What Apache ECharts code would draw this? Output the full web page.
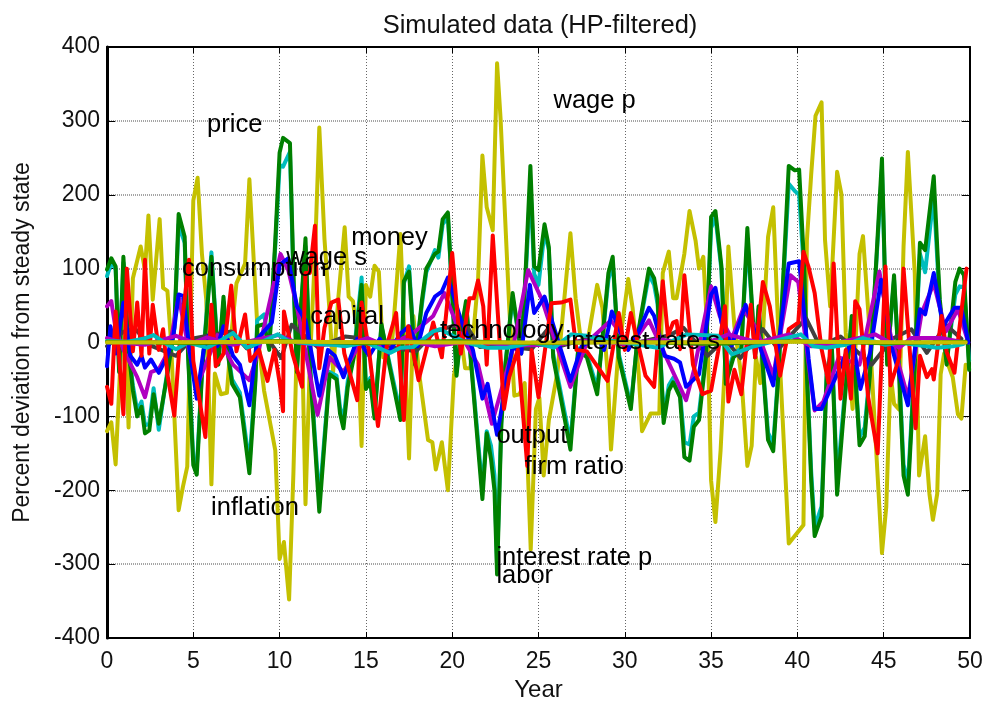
<!DOCTYPE html>
<html>
<head>
<meta charset="utf-8">
<title>Simulated data (HP-filtered)</title>
<script src="https://cdn.jsdelivr.net/npm/echarts@6/dist/echarts.min.js"></script>
<style>
html, body { margin: 0; padding: 0; background: #fff; }
#chart { width: 988px; height: 702px; }
</style>
</head>
<body>
<div id="chart"></div>
<script>
// [year, percent deviation] at the turning points of each line
var yellow_data = [[0,-120],[0.25,-108],[0.5,-165],[0.75,-40],[1,60],[1.25,-115],[1.5,87],[1.95,130],[2.2,98],[2.4,172],[2.65,58],[3.05,167],[3.25,74],[3.5,70],[3.7,5],[4.15,-227],[4.4,-195],[4.65,-168],[5,192],[5.25,223],[5.5,120],[5.75,58],[6.05,-192],[6.25,-42],[6.6,-70],[6.95,-68],[7.2,10],[7.5,80],[8,107],[8.25,221],[8.5,112],[8.75,5],[9.1,-65],[9.5,-115],[9.75,-146],[10,-293],[10.25,-270],[10.55,-348],[10.8,-177],[11,0],[11.25,60],[11.5,-219],[11.75,-30],[12.05,120],[12.3,291],[12.6,140],[12.9,40],[13.1,-40],[13.4,60],[13.77,156],[14,62],[14.25,56],[14.5,10],[14.75,-140],[15,78],[15.25,62],[15.5,104],[15.75,96],[16,-20],[16.5,-5],[17,147],[17.5,-157],[17.75,36],[18.1,-45],[18.6,-132],[18.85,-135],[19.05,-172],[19.4,-135],[19.75,-200],[20.1,-45],[20.5,10],[20.75,-35],[21.05,-35],[21.5,85],[21.75,253],[22,183],[22.35,152],[22.6,378],[22.8,304],[23.3,50],[23.6,-72],[23.9,-70],[24.2,-55],[24.55,-280],[24.85,-90],[25.05,-75],[25.3,-180],[25.6,-105],[26.1,-40],[26.85,148],[27.15,60],[27.4,13],[27.8,-5],[28.4,78],[28.7,47],[29,-40],[29.2,-145],[29.6,-20],[30.2,86],[30.45,47],[30.8,-40],[31,-120],[31.5,-96],[32,-96],[32.2,94],[32.55,123],[32.8,60],[33,60],[33.45,120],[33.75,178],[34.1,138],[34.3,100],[34.55,116],[34.8,5],[35,-187],[35.25,-243],[35.55,-146],[35.8,-30],[36,130],[36.35,22],[36.75,-45],[37.1,-167],[37.35,-140],[37.6,-20],[37.85,-55],[38.3,143],[38.6,183],[38.9,13],[39.5,-272],[40.35,-247],[40.55,138],[40.8,228],[41.05,307],[41.4,325],[41.6,139],[41.9,49],[42.3,231],[42.55,201],[42.8,13],[43.2,-90],[43.6,120],[43.8,144],[44.15,27],[44.9,-285],[45.15,-222],[45.4,-43],[45.6,-83],[45.9,-91],[46.15,130],[46.4,258],[46.8,94],[47.05,-180],[47.4,-127],[47.65,-205],[47.85,-240],[48.1,-205],[48.3,-43],[48.5,-15],[49,-47],[49.3,-97],[49.5,-103],[49.75,-30]];

var green_data = [[0,99],[0.25,114],[0.5,103],[0.7,-40],[0.95,116],[1.25,-10],[1.5,-65],[1.75,-100],[2,-87],[2.2,-123],[2.45,-119],[2.7,-70],[3,-110],[3.5,-43],[3.9,20],[4.15,174],[4.5,143],[4.7,-20],[5,-166],[5.2,-179],[5.5,-43],[6.05,116],[6.45,-30],[6.75,62],[7,-15],[7.25,-56],[7.7,-74],[8.25,-177],[8.6,-52],[8.7,22],[9.1,25],[9.4,-10],[9.75,138],[10,257],[10.2,277],[10.6,270],[10.8,94],[11,-40],[11.5,141],[11.75,-30],[12.3,-229],[12.9,-43],[13.3,-50],[13.5,-96],[13.7,-116],[13.95,-60],[14.3,-20],[14.75,78],[15,-63],[15.25,-52],[15.5,-103],[15.9,25],[16.35,-30],[17,-105],[17.2,83],[17.5,96],[17.85,-30],[18.25,58],[18.5,100],[19,120],[19.2,123],[19.45,167],[19.75,176],[20.25,-45],[20.5,13],[20.8,56],[21.1,-30],[21.75,-212],[22,-123],[22.25,-158],[22.45,-200],[22.6,-314],[22.85,-110],[23.05,-40],[23.5,67],[24,-15],[24.25,94],[24.53,239],[24.75,103],[25,98],[25.35,160],[25.6,129],[25.85,-20],[26.85,-145],[27.3,-10],[27.8,-20],[28.4,-70],[28.7,5],[29.05,94],[29.3,116],[29.65,-20],[30.35,-90],[30.75,10],[31.4,100],[31.7,87],[31.9,60],[32.25,-109],[32.55,-65],[32.8,-54],[33.2,-74],[33.45,-155],[33.75,-160],[34,-114],[34.3,-105],[34.7,-20],[35,170],[35.25,178],[35.6,103],[35.75,13],[35.85,-56],[36.3,-20],[36.75,-10],[37.1,155],[37.55,-20],[37.75,49],[38.3,-132],[38.6,-147],[38.9,-43],[39.5,239],[39.85,233],[40.1,234],[40.4,100],[40.55,-43],[40.8,-187],[41,-262],[41.4,-235],[41.7,-43],[42,-10],[42.3,-206],[42.7,-90],[43.15,36],[43.6,-139],[43.9,-127],[44.2,-43],[44.9,249],[45.2,-30],[45.6,91],[45.85,-20],[46.15,-180],[46.4,-206],[46.8,-30],[47.1,135],[47.4,125],[47.9,225],[48.25,58],[48.65,-30],[49.15,82],[49.4,100],[49.65,91],[49.95,-37]];

// big cyan line, follows the green one and shows only at its edges
var cyan_data = [[0,90],[0.25,108],[0.5,100],[0.7,-35],[0.95,108],[1.25,-8],[1.5,-58],[1.75,-92],[2,-80],[2.2,-112],[2.45,-110],[2.7,-62],[3,-118],[3.5,-38],[3.9,18],[4.15,160],[4.5,135],[4.7,-15],[5,-155],[5.2,-170],[5.5,-40],[6.05,122],[6.45,-25],[6.75,55],[7,-12],[7.25,-50],[7.7,-68],[8.25,-165],[8.6,-45],[8.7,30],[9.1,38],[9.4,-5],[9.75,130],[10,240],[10.2,238],[10.6,258],[10.8,85],[11,-35],[11.5,130],[11.75,-25],[12.3,-215],[12.9,-40],[13.3,-45],[13.5,-88],[13.7,-106],[13.95,-52],[14.3,-15],[14.75,88],[15,-58],[15.25,-48],[15.5,-95],[15.9,22],[16.35,-26],[17,-96],[17.2,80],[17.5,103],[17.85,-25],[18.25,52],[18.5,95],[19,125],[19.2,115],[19.45,160],[19.75,170],[20.25,-40],[20.5,10],[20.8,50],[21.1,-26],[21.75,-200],[22,-120],[22.25,-140],[22.45,-180],[22.6,-300],[22.85,-100],[23.05,-35],[23.5,60],[24,-12],[24.25,85],[24.53,215],[24.75,93],[25,78],[25.35,150],[25.6,125],[25.85,-15],[26.85,-135],[27.3,-8],[27.8,-16],[28.4,-62],[28.7,4],[29.05,85],[29.3,108],[29.65,-15],[30.35,-85],[30.75,8],[31.4,92],[31.7,78],[31.9,52],[32.25,-100],[32.55,-58],[32.8,-48],[33.2,-68],[33.45,-135],[33.75,-138],[34,-100],[34.3,-95],[34.7,-15],[35,155],[35.25,170],[35.6,98],[35.75,10],[35.85,-50],[36.3,-15],[36.75,-8],[37.1,140],[37.55,-15],[37.75,45],[38.3,-122],[38.6,-138],[38.9,-38],[39.5,215],[39.85,205],[40.1,200],[40.4,90],[40.55,-38],[40.8,-175],[41,-250],[41.4,-222],[41.7,-38],[42,-8],[42.3,-190],[42.7,-80],[43.15,30],[43.6,-128],[43.9,-115],[44.2,-38],[44.9,235],[45.2,-25],[45.6,85],[45.85,-15],[46.15,-165],[46.4,-192],[46.8,-25],[47.1,120],[47.4,95],[47.9,200],[48.25,50],[48.65,-25],[49.15,65],[49.4,76],[49.65,75],[49.95,-25]];

var red_data = [[0,-60],[0.25,-83],[0.5,42],[0.7,-20],[0.95,-97],[1.15,100],[1.5,-12],[1.75,54],[2,-18],[2.2,112],[2.45,-15],[2.65,51],[3,-10],[3.25,18],[3.5,-43],[3.9,-99],[4.2,-5],[4.75,112],[5,-25],[5.7,-128],[6.05,51],[6.3,-32],[6.75,-15],[7.2,77],[7.5,-12],[8,38],[8.3,-25],[8.8,-10],[9.3,-52],[9.7,-10],[10,-54],[10.2,-93],[10.25,42],[10.75,-15],[11.3,-60],[11.5,94],[11.75,94],[12.05,158],[12.3,-35],[12.6,20],[13,54],[13.4,58],[13.75,-15],[14.5,-78],[14.75,54],[15.2,-15],[15.7,-113],[16.2,-5],[16.75,40],[17.2,-105],[17.45,22],[18.05,-51],[18.9,27],[19.4,-20],[20,121],[20.5,-15],[21,60],[21.25,60],[21.5,84],[21.8,49],[22,-30],[22.35,145],[23,-90],[23.3,-47],[23.8,-10],[24.35,-167],[24.6,-10],[25,-74],[25.75,53],[26.3,54],[26.85,58],[27.2,-10],[27.8,-12],[29,-52],[29.65,40],[30,-10],[30.35,40],[31.2,-45],[31.7,-60],[32.2,83],[32.5,9],[32.8,27],[33,29],[33.2,-9],[33.45,91],[33.95,-30],[34.5,-70],[35,-65],[35.4,-13],[35.8,49],[36,-80],[36.35,-37],[36.75,-70],[37.3,51],[37.55,-20],[38,82],[38.4,49],[39,-45],[39.5,18],[40.05,27],[40.35,123],[40.65,102],[41,67],[41.4,-9],[41.8,-54],[42.1,107],[42.5,-76],[42.8,-10],[43.1,-76],[43.35,56],[43.6,45],[44.1,-74],[44.65,-150],[45.1,103],[45.4,-58],[45.9,-20],[46.15,100],[46.85,-116],[47.1,-18],[47.5,-47],[47.8,-36],[47.9,-50],[48.35,36],[48.65,-13],[49.1,-41],[49.4,22],[49.8,100]];

var blue_data = [[0,-32],[0.2,22],[0.5,-15],[0.95,54],[1.35,-18],[1.75,-30],[2,-18],[2.2,-34],[2.55,-23],[3,-41],[3.5,-18],[3.85,10],[4.15,65],[4.4,63],[4.8,-13],[5.2,-76],[5.6,-10],[6,15],[6.4,-5],[6.75,22],[7.3,-18],[7.7,-30],[8.25,-85],[8.7,5],[9.55,27],[10,105],[10.5,114],[11,49],[11.5,30],[12.3,-72],[12.8,-10],[13.2,-18],[13.7,-47],[14.5,5],[15.2,-18],[15.8,5],[16.3,-15],[17,12],[17.5,22],[18,-5],[18.5,40],[19,62],[19.4,69],[19.75,88],[20.5,31],[21.2,-10],[21.75,-76],[22.05,-56],[22.6,-125],[23.5,-5],[24,-15],[24.5,78],[24.75,40],[25.35,62],[26.1,5],[26.85,-52],[27.5,-5],[28.4,8],[28.8,-10],[29.25,42],[30.2,-10],[30.8,15],[31.4,47],[31.7,36],[32.3,-18],[32.85,-22],[33.2,-27],[33.55,-60],[34.3,-43],[35,65],[35.25,74],[35.6,27],[36.2,-4],[37,51],[37.55,13],[38.6,-58],[39.5,107],[40.1,110],[40.65,-22],[41,-90],[41.4,-90],[42.3,-43],[43.2,5],[43.65,-63],[44.2,-15],[44.85,85],[45.45,-5],[46.4,-85],[47.1,45],[47.4,38],[47.9,94],[48.45,22],[49.1,47],[49.5,47],[49.9,0]];

var purple_data = [[0,49],[0.25,56],[0.5,18],[0.95,-10],[1.75,-47],[2.2,-74],[2.55,-40],[3,-36],[3.6,-10],[4.15,62],[4.7,-5],[5.2,-60],[6.4,10],[7.3,-30],[8.25,-51],[8.8,-10],[10.05,120],[10.5,98],[11,49],[12.2,-98],[12.9,-20],[13.7,-40],[14.7,0],[16,-5],[17.6,10],[18.9,36],[19.55,67],[20.5,10],[21.5,-30],[22.3,-110],[23.5,-10],[24.4,98],[25.2,58],[26,0],[26.85,-60],[27.8,0],[29.2,30],[30.3,-5],[31.4,30],[32.3,-15],[33.55,-78],[34,-38],[35,76],[35.5,36],[36.2,5],[36.85,45],[37.6,20],[38.6,-45],[39.6,91],[40.05,82],[40.6,-20],[41,-92],[41.5,-80],[42.4,-20],[43.6,-30],[44.75,96],[45.4,10],[46.4,-74],[47.2,40],[47.9,80],[48.6,15],[49.3,45],[49.9,0]];

var grey_data = [[0,-5],[0.9,14],[1.6,19],[2.5,-4],[4,-18],[4.9,5],[7.2,15],[8.1,-8],[9.3,5],[10.1,-21],[10.7,24],[12.2,-6],[13.8,8],[15,5],[16.8,-8],[17.9,-12],[19,15],[20.7,27],[21.6,-6],[22.4,-4],[24.6,-9],[25.6,20],[26.1,-6],[28.3,8],[30,-4],[32.6,10],[33.4,20],[34.8,-18],[35.8,5],[36.7,-21],[38,18],[38.9,-9],[40.5,33],[41.3,-5],[42.5,8],[44.3,-30],[45.5,5],[46.6,18],[47.5,-14],[48.6,24],[49.5,5]];

// thin band close to zero
var small_cyan_data = [[0,2],[1.2,1],[2.1,5],[2.7,10],[3.3,0],[4,-9],[4.7,0],[5.8,-7],[6.4,0],[7.3,13],[8.1,-7],[8.9,0],[9.9,11],[10.5,2],[12,-2],[13.1,-3],[13.8,-5],[15,0],[16.4,-14],[17,-7],[17.75,-6],[18.9,15],[19.3,18],[20.8,0],[22,-7],[23.2,-7],[24.7,0],[25.9,-7],[26.9,11],[27.8,9],[28.6,4],[30,0],[31.9,-7],[33.6,11],[35.4,9],[36.2,-16],[37.5,-5],[38.7,2],[40.2,11],[40.9,-5],[41.7,-7],[42.8,-3],[43.8,6],[45.1,-3],[45.9,0],[48.1,-7],[49,-5],[49.6,-2]];
var small_magenta_data = [[0,6],[0.8,0],[2.2,-3],[4,9],[5,0],[5.8,7],[7.3,-3],[9.9,10],[11,0],[12.3,-3],[14,-2],[15.1,6],[15.7,0],[17.4,3],[19,-5],[21,2],[23.5,-4],[26,-3],[28,3],[30,-2],[32,4],[34.5,-3],[36,11],[37.7,0],[39.5,11],[40.8,-5],[42.4,0],[44.5,11],[45.9,-7],[46.6,6],[48.3,6],[49.7,0]];
var small_green_data = [[0,1],[5,-1],[10,2],[15,-1],[20,2],[25,-1],[30,1],[35,-2],[40,2],[45,-1],[49.75,1]];
var small_yellow_data = [[0,0],[10,1],[20,0],[30,0],[40,1],[49.75,0]];

// labels are left aligned at the given year / value
var label_names = ["price", "wage p", "money", "wage s", "consumption", "capital", "technology", "interest rate s", "output", "firm ratio", "inflation", "interest rate p", "labor"];
var label_years = [5.8, 25.87, 14.15, 10.38, 4.35, 11.77, 19.3, 26.57, 22.56, 24.2, 6.03, 22.56, 22.56];
var label_values = [295, 327, 142, 115, 99, 35, 16, 1, -127, -169, -224, -291, -316];

var font = '"Liberation Sans", Arial, sans-serif';

function lineSeries(name, data, color) {
    return {
        name: name,
        type: 'line',
        data: data,
        showSymbol: false,
        symbol: 'none',
        silent: true,
        lineStyle: { color: color, width: 4, join: 'round', cap: 'round' }
    };
}

var label_data = [];
for (var i = 0; i < label_names.length; i++) {
    label_data.push({ name: label_names[i], value: [label_years[i], label_values[i]] });
}

var chart = echarts.init(document.getElementById("chart"));
chart.setOption({
    animation: false,
    backgroundColor: '#ffffff',
    title: {
        text: 'Simulated data (HP-filtered)',
        left: 535,
        top: 8,
        textAlign: 'center',
        textStyle: { fontFamily: font, fontSize: 25.5, fontWeight: 'normal', color: '#111' }
    },
    // keep the plot box where it is, the rotated name would otherwise push it in
    grid: { left: 107, right: 18, top: 47, bottom: 64, outerBoundsMode: 'none' },
    xAxis: [
        {
            type: 'value', min: 0, max: 50, interval: 5,
            name: 'Year', nameLocation: 'middle', nameGap: 38,
            nameTextStyle: { fontFamily: font, fontSize: 24, color: '#111' },
            axisLine: { onZero: false, lineStyle: { color: '#000', width: 2 } },
            axisTick: { inside: true, length: 6, lineStyle: { color: '#000', width: 1 } },
            axisLabel: { fontFamily: font, fontSize: 23, color: '#111', margin: 12, showMinLabel: true, showMaxLabel: true },
            splitLine: { show: true, lineStyle: { color: '#666', width: 1, type: [1, 2] } }
        },
        {
            type: 'value', min: 0, max: 50, interval: 5, position: 'top',
            axisLine: { onZero: false, lineStyle: { color: '#000', width: 2 } },
            axisTick: { inside: true, length: 6, lineStyle: { color: '#000', width: 1 } },
            axisLabel: { show: false },
            splitLine: { show: false }
        }
    ],
    yAxis: [
        {
            type: 'value', min: -400, max: 400, interval: 100,
            name: 'Percent deviation from steady state', nameLocation: 'middle', nameGap: 73, nameRotate: 90,
            nameTextStyle: { fontFamily: font, fontSize: 23, color: '#111' },
            axisLine: { onZero: false, lineStyle: { color: '#000', width: 3 } },
            axisTick: { inside: true, length: 8, lineStyle: { color: '#000', width: 1 } },
            axisLabel: { fontFamily: font, fontSize: 23, color: '#111', margin: 7, padding: [3, 0, 0, 0], showMinLabel: true, showMaxLabel: true },
            splitLine: { show: true, lineStyle: { color: '#888', width: 1.5, type: [1, 1] } }
        },
        {
            type: 'value', min: -400, max: 400, interval: 100, position: 'right',
            axisLine: { onZero: false, lineStyle: { color: '#000', width: 2 } },
            axisTick: { inside: true, length: 8, lineStyle: { color: '#000', width: 1 } },
            axisLabel: { show: false },
            splitLine: { show: false }
        }
    ],
    series: [
        lineSeries('yellow', yellow_data, '#c4c000'),
        lineSeries('cyan', cyan_data, '#00bdbd'),
        lineSeries('green', green_data, '#008000'),
        lineSeries('grey', grey_data, '#404040'),
        lineSeries('purple', purple_data, '#b000c0'),
        lineSeries('blue', blue_data, '#0000ff'),
        lineSeries('red', red_data, '#ff0000'),
        lineSeries('small magenta', small_magenta_data, '#b000c0'),
        lineSeries('small cyan', small_cyan_data, '#00bdbd'),
        lineSeries('small green', small_green_data, '#3c9000'),
        lineSeries('small yellow', small_yellow_data, '#c4c000'),
        {
            name: 'labels',
            type: 'scatter',
            data: label_data,
            symbolSize: 0,
            silent: true,
            z: 50,
            itemStyle: { opacity: 1 },
            label: {
                show: true,
                position: 'right',
                distance: 0,
                formatter: '{b}',
                fontFamily: font,
                fontSize: 25.5,
                color: '#000',
                opacity: 1
            }
        }
    ]
});

window.addEventListener('resize', function () {
    chart.resize();
});
</script>
</body>
</html>
